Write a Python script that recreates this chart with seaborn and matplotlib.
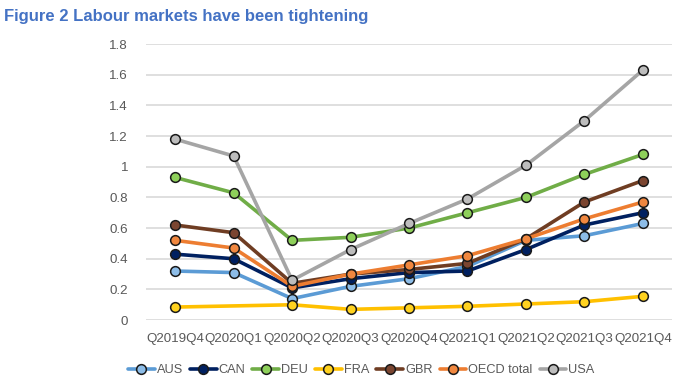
import numpy as np
import pandas as pd
import seaborn as sns
import matplotlib.pyplot as plt

sns.set_theme(style="white")
plt.rcParams['font.family'] = ['Liberation Sans', 'DejaVu Sans']

quarters = ["Q2019Q4", "Q2020Q1", "Q2020Q2", "Q2020Q3", "Q2020Q4",
            "Q2021Q1", "Q2021Q2", "Q2021Q3", "Q2021Q4"]

aus = [0.32, 0.31, 0.14, 0.22, 0.27, 0.35, 0.52, 0.55, 0.63]
can = [0.43, 0.40, 0.21, 0.27, 0.31, 0.32, 0.46, 0.62, 0.70]
deu = [0.93, 0.83, 0.52, 0.54, 0.60, 0.70, 0.80, 0.95, 1.08]
fra = [0.085, np.nan, 0.10, 0.07, 0.08, 0.09, 0.105, 0.12, 0.155]
gbr = [0.62, 0.57, 0.24, 0.30, 0.33, 0.37, 0.53, 0.77, 0.91]
oecd = [0.52, 0.47, 0.22, 0.30, 0.36, 0.42, 0.53, 0.66, 0.77]
usa = [1.18, 1.07, 0.26, 0.46, 0.63, 0.79, 1.01, 1.30, 1.63]

series = ["AUS", "CAN", "DEU", "FRA", "GBR", "OECD total", "USA"]
values = [aus, can, deu, fra, gbr, oecd, usa]
line_colors = ["#5B9BD5", "#002060", "#70AD47", "#FFC000", "#6F3D23", "#ED7D31", "#A5A5A5"]
face_colors = ["#8DBDE8", "#002060", "#8ED05A", "#FFD21F", "#7B4530", "#F0873F", "#BDBDBD"]

fig = plt.figure(figsize=(7, 3.88), dpi=100)
ax = fig.add_axes([0.2086, 0.175, 0.7514, 0.7114])

for name, vals, lc, fc in zip(series, values, line_colors, face_colors):
    df = pd.DataFrame({"quarter": quarters, "value": vals})
    sns.lineplot(data=df, x="quarter", y="value", ax=ax, color=lc, linewidth=2.6,
                 marker="o", markersize=7, markerfacecolor=fc,
                 markeredgecolor="#1a1a1a", markeredgewidth=1.1, label=name)

ax.set_ylim(0, 1.8)
ax.set_xlim(-0.5, len(quarters) - 0.5)
ax.set_yticks(np.arange(0, 1.81, 0.2))
ax.set_yticklabels(["0", "0.2", "0.4", "0.6", "0.8", "1", "1.2", "1.4", "1.6", "1.8"])
ax.yaxis.grid(True, color="#D9D9D9", linewidth=1.2)
ax.set_axisbelow(True)
for s in ax.spines.values():
    s.set_visible(False)
ax.tick_params(axis="both", labelsize=9.6, colors="#595959", length=0)
ax.tick_params(axis="y", pad=13)
ax.tick_params(axis="x", pad=9)
ax.set_xlabel("")
ax.set_ylabel("")

handles, labels = ax.get_legend_handles_labels()
ax.legend(handles, labels, ncol=7, loc="center", bbox_to_anchor=(0.516, 0.046),
          bbox_transform=fig.transFigure, frameon=False, fontsize=9.2,
          handlelength=2.1, handletextpad=0.15, columnspacing=0.55,
          labelcolor="#595959")

fig.text(0.006, 0.958, "Figure 2 Labour markets have been tightening",
         fontsize=12, fontweight="bold", color="#4472C4",
         va="center", ha="left")

fig.savefig("out.png", dpi=100)
